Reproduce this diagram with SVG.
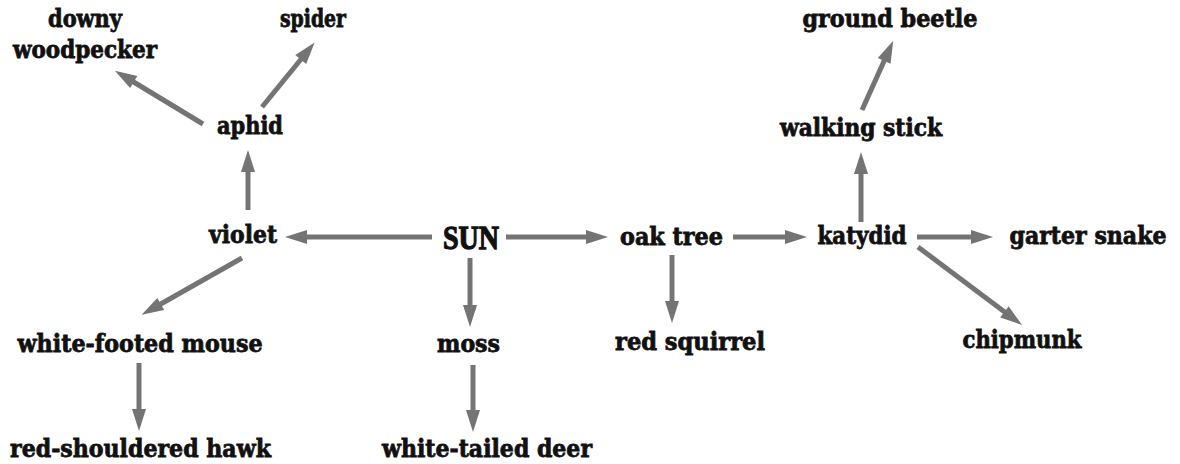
<svg xmlns="http://www.w3.org/2000/svg" width="1180" height="464" viewBox="0 0 1180 464">
  <style>
    .lbl { font-family: "DejaVu Serif", "Liberation Serif", serif; font-weight: bold; font-size: 24px; fill: #111; stroke: #111; stroke-width: 0.8; text-anchor: middle; }
    .sun { font-family: "Liberation Serif", "DejaVu Serif", serif; font-weight: bold; font-size: 33px; fill: #111; stroke: #111; stroke-width: 1.3; text-anchor: middle; }
    .arr { stroke: #747474; stroke-width: 5; fill: none; marker-end: url(#head); }
  </style>
  <defs>
    <marker id="head" markerUnits="userSpaceOnUse" markerWidth="30" markerHeight="20" refX="0" refY="0" orient="auto" overflow="visible">
      <path d="M-2,-7 L20,0 L-2,7 Z" fill="#747474"/>
    </marker>
  </defs>
  <rect width="1180" height="464" fill="#fff"/>

  <!-- energy flow arrows -->
  <g id="connectors">
    <line class="arr" x1="203" y1="124" x2="132" y2="81"/>
    <line class="arr" x1="262" y1="107" x2="302" y2="58"/>
    <line class="arr" x1="248" y1="210" x2="248" y2="170"/>
    <line class="arr" x1="432" y1="237" x2="305" y2="237"/>
    <line class="arr" x1="506" y1="237" x2="588" y2="237"/>
    <line class="arr" x1="733" y1="237" x2="787" y2="237"/>
    <line class="arr" x1="917" y1="237" x2="973" y2="237"/>
    <line class="arr" x1="918" y1="247" x2="1006" y2="313"/>
    <line class="arr" x1="861" y1="222" x2="861" y2="172"/>
    <line class="arr" x1="862" y1="110" x2="885" y2="59"/>
    <line class="arr" x1="242" y1="258" x2="159" y2="305"/>
    <line class="arr" x1="139" y1="363" x2="139" y2="411"/>
    <line class="arr" x1="470" y1="258" x2="470" y2="307"/>
    <line class="arr" x1="473" y1="365" x2="473" y2="412"/>
    <line class="arr" x1="672" y1="255" x2="672" y2="303"/>
  </g>

  <!-- organisms -->
  <g id="downy-woodpecker">
    <text class="lbl" x="85" y="27" textLength="74" lengthAdjust="spacingAndGlyphs">downy</text>
    <text class="lbl" x="85" y="58" textLength="144" lengthAdjust="spacingAndGlyphs">woodpecker</text>
  </g>
  <g id="spider"><text class="lbl" x="313" y="27" textLength="66" lengthAdjust="spacingAndGlyphs">spider</text></g>
  <g id="aphid"><text class="lbl" x="250" y="134" textLength="66" lengthAdjust="spacingAndGlyphs">aphid</text></g>
  <g id="ground-beetle"><text class="lbl" x="890" y="27" textLength="175" lengthAdjust="spacingAndGlyphs">ground beetle</text></g>
  <g id="walking-stick"><text class="lbl" x="861" y="136" textLength="162" lengthAdjust="spacingAndGlyphs">walking stick</text></g>
  <g id="violet"><text class="lbl" x="243" y="243" textLength="68" lengthAdjust="spacingAndGlyphs">violet</text></g>
  <g id="sun"><text class="sun" x="471" y="249" textLength="56" lengthAdjust="spacingAndGlyphs">SUN</text></g>
  <g id="oak-tree"><text class="lbl" x="671.5" y="245" textLength="103" lengthAdjust="spacingAndGlyphs">oak tree</text></g>
  <g id="katydid"><text class="lbl" x="862" y="244" textLength="89" lengthAdjust="spacingAndGlyphs">katydid</text></g>
  <g id="garter-snake"><text class="lbl" x="1088" y="244" textLength="157" lengthAdjust="spacingAndGlyphs">garter snake</text></g>
  <g id="white-footed-mouse"><text class="lbl" x="140" y="352" textLength="245" lengthAdjust="spacingAndGlyphs">white-footed mouse</text></g>
  <g id="moss"><text class="lbl" x="468.5" y="352" textLength="63" lengthAdjust="spacingAndGlyphs">moss</text></g>
  <g id="red-squirrel"><text class="lbl" x="690" y="350" textLength="150" lengthAdjust="spacingAndGlyphs">red squirrel</text></g>
  <g id="chipmunk"><text class="lbl" x="1022" y="348" textLength="119" lengthAdjust="spacingAndGlyphs">chipmunk</text></g>
  <g id="red-shouldered-hawk"><text class="lbl" x="140.5" y="457" textLength="261" lengthAdjust="spacingAndGlyphs">red-shouldered hawk</text></g>
  <g id="white-tailed-deer"><text class="lbl" x="487" y="457" textLength="210" lengthAdjust="spacingAndGlyphs">white-tailed deer</text></g>
</svg>
